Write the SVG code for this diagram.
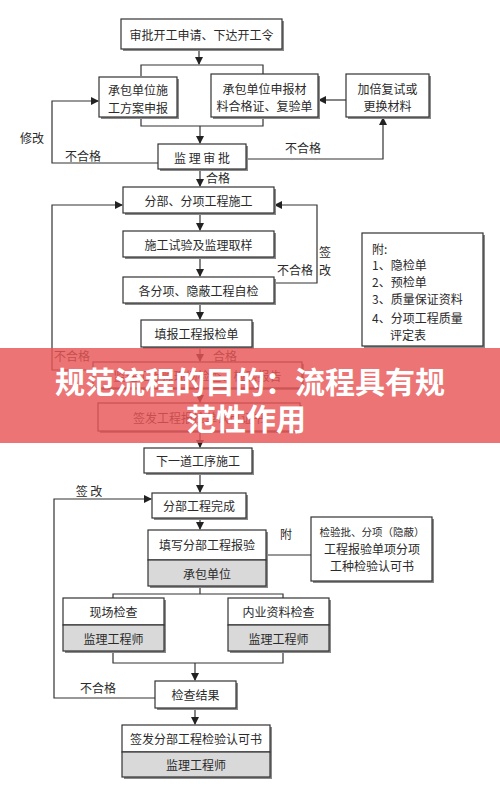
<svg xmlns="http://www.w3.org/2000/svg" width="500" height="793" viewBox="0 0 500 793">
<defs>
<marker id="ah" markerWidth="8" markerHeight="8" refX="7" refY="4" orient="auto" markerUnits="userSpaceOnUse">
<path d="M0,0 L8,4 L0,8 Z" fill="#222"/>
</marker>
<style>
.sh{fill:#8a8a8a}
.box{fill:#fff;stroke:#333;stroke-width:1.2}
.gr{fill:#d9d9d9;stroke:#333;stroke-width:1.2}
.t{font-family:"Noto Sans CJK SC","Noto Sans",sans-serif;font-size:12px;fill:#2a2a2a;text-anchor:middle;dominant-baseline:central}
.tl{font-family:"Noto Sans CJK SC","Noto Sans",sans-serif;font-size:12px;fill:#2a2a2a;dominant-baseline:central}
.ln{stroke:#333;stroke-width:1.2;fill:none}
.ar{stroke:#333;stroke-width:1.2;fill:none;marker-end:url(#ah)}
.bt{font-family:"Noto Sans CJK SC","Noto Sans",sans-serif;font-size:30px;font-weight:bold;fill:#fff;text-anchor:middle;dominant-baseline:central}
</style>
</defs>
<rect width="500" height="793" fill="#fff"/>

<g id="connectors">
<path class="ar" d="M199,49 V64"/>
<path class="ln" d="M141,76 V65 H263 V74"/>
<path class="ln" d="M141,117 V126 H263 V117"/>
<path class="ar" d="M200,126 V143"/>
<path class="ar" d="M346,100 H319"/>
<path class="ar" d="M246,159 H383 V118"/>
<path class="ar" d="M158,163 H52 V101 H98"/>
<path class="ar" d="M200,169 V186"/>
<path class="ar" d="M200,213 V230"/>
<path class="ar" d="M200,257 V276"/>
<path class="ar" d="M200,303 V319"/>
<path class="ar" d="M274,283 H317 V205 H275"/>
<path class="ar" d="M93,370 H52 V205 H122"/>
<path class="ar" d="M200,347 V361"/>
<path class="ar" d="M200,388 V402"/>
<path class="ar" d="M200,431 V447"/>
<path class="ar" d="M200,473 V492"/>
<path class="ar" d="M200,518 V529"/>
<path class="ln" d="M266,555 H311"/>
<path class="ln" d="M200,586 V594 M113,598 V594 H283 V598"/>
<path class="ln" d="M113,651 V663 H283 V651"/>
<path class="ar" d="M195,663 V680"/>
<path class="ar" d="M155,698 H54 V499 H151"/>
<path class="ar" d="M195,708 V724"/>
</g>

<g id="labels">
<text class="t" x="32" y="137">修改</text>
<text class="t" x="83" y="155">不合格</text>
<text class="t" x="303" y="147">不合格</text>
<text class="t" x="218" y="177">合格</text>
<text class="t" x="295" y="269">不合格</text>
<text class="t" x="325" y="251">签</text>
<text class="t" x="325" y="269">改</text>
<text class="t" x="72" y="355">不合格</text>
<text class="t" x="225" y="355">合格</text>
<text class="t" x="89" y="490">签 改</text>
<text class="t" x="286" y="533">附</text>
<text class="t" x="98" y="687">不合格</text>
</g>

<g id="n1"><rect class="sh" x="123" y="21" width="161" height="30"/><rect class="box" x="121" y="19" width="161" height="30"/><text class="t" x="201.5" y="34">审批开工申请、下达开工令</text></g>
<g id="n2"><rect class="sh" x="101" y="79" width="78" height="40"/><rect class="box" x="99" y="77" width="78" height="40"/><text class="t" x="138" y="89">承包单位施</text><text class="t" x="138" y="107">工方案申报</text></g>
<g id="n3"><rect class="sh" x="213" y="76" width="107" height="43"/><rect class="box" x="211" y="74" width="107" height="43"/><text class="t" x="264.5" y="88">承包单位申报材</text><text class="t" x="264.5" y="105">料合格证、复验单</text></g>
<g id="n4"><rect class="sh" x="348" y="76" width="83" height="43"/><rect class="box" x="346" y="74" width="83" height="43"/><text class="t" x="387.5" y="88">加倍复试或</text><text class="t" x="387.5" y="105">更换材料</text></g>
<g id="n5"><rect class="sh" x="160" y="146" width="88" height="25"/><rect class="box" x="158" y="144" width="88" height="25"/><text class="t" x="202" y="157">监 理 审 批</text></g>
<g id="n6"><rect class="sh" x="125" y="189" width="151" height="26"/><rect class="box" x="123" y="187" width="151" height="26"/><text class="t" x="198.5" y="200">分部、分项工程施工</text></g>
<g id="n7"><rect class="sh" x="125" y="233" width="151" height="26"/><rect class="box" x="123" y="231" width="151" height="26"/><text class="t" x="198.5" y="244">施工试验及监理取样</text></g>
<g id="n8"><rect class="sh" x="125" y="279" width="151" height="26"/><rect class="box" x="123" y="277" width="151" height="26"/><text class="t" x="198.5" y="290">各分项、隐蔽工程自检</text></g>
<g id="n9"><rect class="sh" x="143" y="322" width="111" height="27"/><rect class="box" x="141" y="320" width="111" height="27"/><text class="t" x="196.5" y="333.5">填报工程报检单</text></g>
<g id="attach1"><rect class="sh" x="364" y="235" width="121" height="113"/><rect class="box" x="362" y="233" width="121" height="113"/>
<text class="tl" x="372" y="248">附:</text>
<text class="tl" x="372" y="264">1、隐检单</text>
<text class="tl" x="372" y="281">2、预检单</text>
<text class="tl" x="372" y="298">3、质量保证资料</text>
<text class="tl" x="372" y="317">4、分项工程质量</text>
<text class="tl" x="390" y="334">评定表</text></g>
<g id="b1"><rect class="sh" x="95" y="364" width="209" height="26"/><rect class="box" x="93" y="362" width="209" height="26"/><text class="t" x="197.5" y="375">监理工程师现场检查、检验报告</text></g>
<g id="b2"><rect class="sh" x="100" y="405" width="202" height="28"/><rect class="box" x="98" y="403" width="202" height="28"/><text class="t" x="199" y="417">签发工程报检单认可证书</text></g>
<g id="n10"><rect class="sh" x="146" y="450" width="108" height="25"/><rect class="box" x="144" y="448" width="108" height="25"/><text class="t" x="198" y="460.5">下一道工序施工</text></g>
<g id="n11"><rect class="sh" x="154" y="495" width="94" height="25"/><rect class="box" x="152" y="493" width="94" height="25"/><text class="t" x="199" y="505.5">分部工程完成</text></g>
<g id="n12"><rect class="sh" x="150" y="532" width="118" height="56"/><rect class="box" x="148" y="530" width="118" height="30"/><rect class="gr" x="148" y="560" width="118" height="26"/><text class="t" x="207" y="544">填写分部工程报验</text><text class="t" x="207" y="573">承包单位</text></g>
<g id="attach2"><rect class="sh" x="313" y="519" width="121" height="64"/><rect class="box" x="311" y="517" width="121" height="64"/>
<text class="t" x="372" y="531" style="font-size:10.5px">检验批、分项（隐蔽）</text>
<text class="t" x="372" y="548">工程报验单项分项</text>
<text class="t" x="372" y="565">工种检验认可书</text></g>
<g id="n13"><rect class="sh" x="65" y="600" width="101" height="53"/><rect class="box" x="63" y="598" width="101" height="27"/><rect class="gr" x="63" y="625" width="101" height="26"/><text class="t" x="113.5" y="611.5">现场检查</text><text class="t" x="113.5" y="638">监理工程师</text></g>
<g id="n14"><rect class="sh" x="230" y="600" width="101" height="53"/><rect class="box" x="228" y="598" width="101" height="27"/><rect class="gr" x="228" y="625" width="101" height="26"/><text class="t" x="278.5" y="611.5">内业资料检查</text><text class="t" x="278.5" y="638">监理工程师</text></g>
<g id="n15"><rect class="sh" x="157" y="683" width="81" height="27"/><rect class="box" x="155" y="681" width="81" height="27"/><text class="t" x="195.5" y="694.5">检查结果</text></g>
<g id="n16"><rect class="sh" x="124" y="727" width="148" height="52"/><rect class="box" x="122" y="725" width="148" height="27"/><rect class="gr" x="122" y="752" width="148" height="25"/><text class="t" x="196" y="738.5">签发分部工程检验认可书</text><text class="t" x="196" y="764.5">监理工程师</text></g>

<g id="banner">
<rect x="0" y="348" width="500" height="95" fill="#e85555" fill-opacity="0.82"/>
<text class="bt" x="250" y="380">规范流程的目的：流程具有规</text>
<text class="bt" x="246" y="417">范性作用</text>
</g>
</svg>
